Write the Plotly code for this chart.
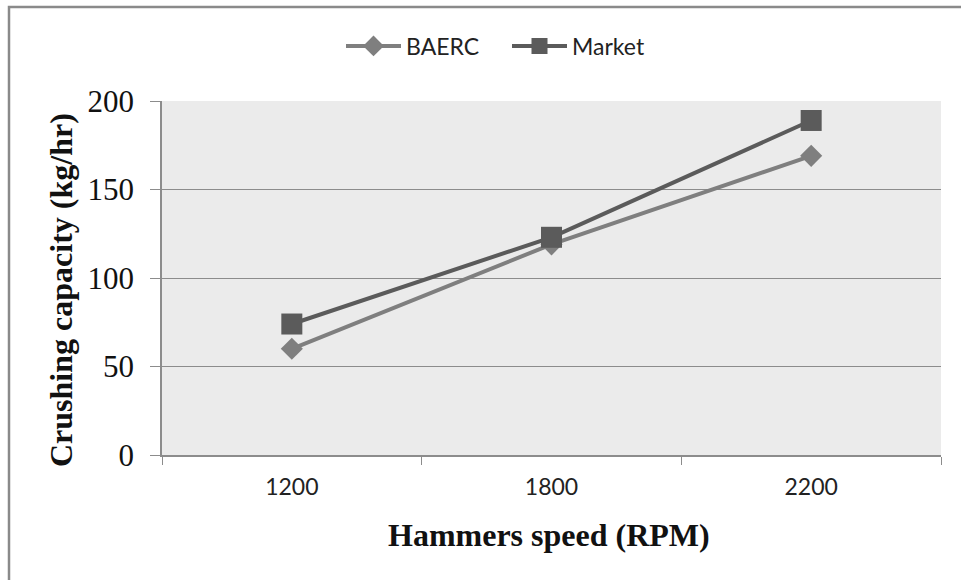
import plotly.graph_objects as go

speeds = ["1200", "1800", "2200"]
baerc = [60, 119, 169]
market = [74, 123, 189]
y_ticks = [0, 50, 100, 150, 200]

W, H = 961, 580
L, R, T, B = 162, 20, 101, 125
pw, ph = W - L - R, H - T - B

def px(x):
    return (x - L) / pw

def py(y):
    return (H - B - y) / ph

fig = go.Figure()
fig.add_trace(go.Scatter(
    x=speeds, y=baerc, name="BAERC", mode="lines+markers",
    line=dict(color="#7f7f7f", width=4),
    marker=dict(symbol="diamond", size=17, color="#7f7f7f"),
))
fig.add_trace(go.Scatter(
    x=speeds, y=market, name="Market", mode="lines+markers",
    line=dict(color="#5b5b5b", width=4),
    marker=dict(symbol="square", size=21, color="#5b5b5b"),
))

fig.update_layout(
    width=W, height=H,
    margin=dict(l=L, r=R, t=T, b=B),
    paper_bgcolor="white",
    plot_bgcolor="#ebebeb",
    showlegend=True,
    legend=dict(orientation="h", x=px(507), y=py(46), xanchor="center", yanchor="middle",
                font=dict(family="Lato", size=23, color="#222222"),
                itemwidth=55, entrywidth=96, tracegroupgap=0, bgcolor="rgba(0,0,0,0)"),
    xaxis=dict(type="category", range=[-0.5, 2.5], tickson="boundaries",
               ticks="outside", ticklen=8, tickcolor="#8c8c8c", tickwidth=1,
               showline=True, linecolor="#8c8c8c", linewidth=1.5,
               showgrid=False, zeroline=False,
               tickfont=dict(family="Lato", size=23, color="#222222"),
               ticklabelstandoff=11),
    yaxis=dict(range=[0, 200], tickvals=y_ticks,
               ticks="outside", ticklen=10, tickcolor="#8c8c8c", tickwidth=1,
               showline=True, linecolor="#8c8c8c", linewidth=1.5,
               showgrid=True, gridcolor="#8c8c8c", gridwidth=1,
               zeroline=False,
               tickfont=dict(family="Liberation Serif", size=31, color="#111111"),
               ticklabelstandoff=10),
    annotations=[
        dict(text="<b>Hammers speed (RPM)</b>", xref="paper", yref="paper",
             x=px(549), y=py(535), xanchor="center", yanchor="middle", showarrow=False,
             font=dict(family="Liberation Serif", size=32, color="#111111")),
        dict(text="<b>Crushing capacity (kg/hr)</b>", xref="paper", yref="paper",
             x=px(61), y=py(290), xanchor="center", yanchor="middle", showarrow=False,
             textangle=-90,
             font=dict(family="Liberation Serif", size=32, color="#111111")),
    ],
    shapes=[
        dict(type="rect", xref="paper", yref="paper",
             x0=px(9), x1=px(1000), y0=py(700), y1=py(7),
             line=dict(color="#8a8a8a", width=2.5), fillcolor="rgba(0,0,0,0)", layer="below"),
    ],
)

fig.write_html("out.html", config={"displayModeBar": False},
               post_script="document.body.style.margin='0';")
